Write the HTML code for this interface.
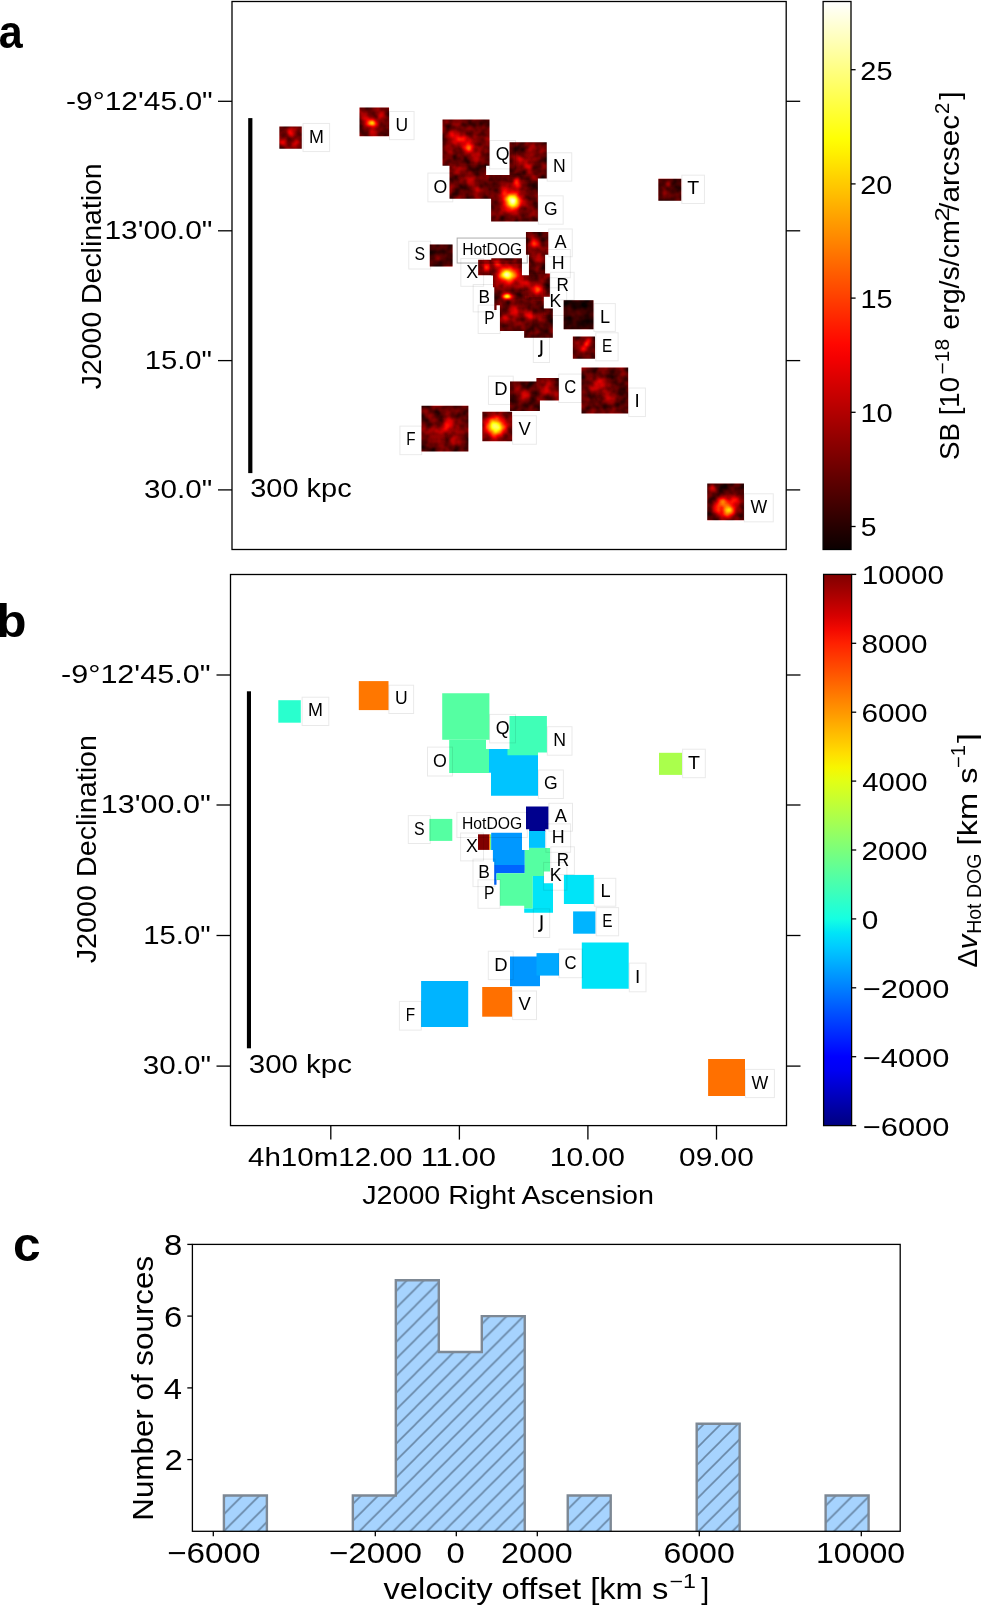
<!DOCTYPE html><html><head><meta charset="utf-8"><style>html,body{margin:0;padding:0;background:#fff;}svg{display:block;will-change:transform;}text{font-family:"Liberation Sans", sans-serif;}</style></head><body>
<svg width="981" height="1605" viewBox="0 0 981 1605">
<defs>
<linearGradient id="ghot" x1="0" y1="0" x2="0" y2="1"><stop offset="0.0000" stop-color="#ffffff"/><stop offset="0.0250" stop-color="#ffffe6"/><stop offset="0.0500" stop-color="#ffffcd"/><stop offset="0.0750" stop-color="#ffffb4"/><stop offset="0.1000" stop-color="#ffff9b"/><stop offset="0.1250" stop-color="#ffff81"/><stop offset="0.1500" stop-color="#ffff68"/><stop offset="0.1750" stop-color="#ffff4f"/><stop offset="0.2000" stop-color="#ffff36"/><stop offset="0.2250" stop-color="#ffff1d"/><stop offset="0.2500" stop-color="#ffff04"/><stop offset="0.2750" stop-color="#fff100"/><stop offset="0.3000" stop-color="#ffe000"/><stop offset="0.3250" stop-color="#ffcf00"/><stop offset="0.3500" stop-color="#ffbf00"/><stop offset="0.3750" stop-color="#ffae00"/><stop offset="0.4000" stop-color="#ff9d00"/><stop offset="0.4250" stop-color="#ff8d00"/><stop offset="0.4500" stop-color="#ff7c00"/><stop offset="0.4750" stop-color="#ff6b00"/><stop offset="0.5000" stop-color="#ff5a00"/><stop offset="0.5250" stop-color="#ff4a00"/><stop offset="0.5500" stop-color="#ff3900"/><stop offset="0.5750" stop-color="#ff2800"/><stop offset="0.6000" stop-color="#ff1700"/><stop offset="0.6250" stop-color="#ff0700"/><stop offset="0.6500" stop-color="#f50000"/><stop offset="0.6750" stop-color="#e40000"/><stop offset="0.7000" stop-color="#d30000"/><stop offset="0.7250" stop-color="#c30000"/><stop offset="0.7500" stop-color="#b20000"/><stop offset="0.7750" stop-color="#a10000"/><stop offset="0.8000" stop-color="#900000"/><stop offset="0.8250" stop-color="#800000"/><stop offset="0.8500" stop-color="#6f0000"/><stop offset="0.8750" stop-color="#5e0000"/><stop offset="0.9000" stop-color="#4e0000"/><stop offset="0.9250" stop-color="#3d0000"/><stop offset="0.9500" stop-color="#2c0000"/><stop offset="0.9750" stop-color="#1b0000"/><stop offset="1.0000" stop-color="#0b0000"/></linearGradient>
<linearGradient id="xstrip" x1="0" y1="0" x2="1" y2="0"><stop offset="0" stop-color="#ff3000"/><stop offset="0.35" stop-color="#ffd000"/><stop offset="0.65" stop-color="#60ff90"/><stop offset="1" stop-color="#00b0ff"/></linearGradient>
<linearGradient id="gjet" x1="0" y1="0" x2="0" y2="1"><stop offset="0.0000" stop-color="#800000"/><stop offset="0.0250" stop-color="#9c0000"/><stop offset="0.0500" stop-color="#b90000"/><stop offset="0.0750" stop-color="#d60000"/><stop offset="0.1000" stop-color="#f30900"/><stop offset="0.1250" stop-color="#ff2100"/><stop offset="0.1500" stop-color="#ff3900"/><stop offset="0.1750" stop-color="#ff5000"/><stop offset="0.2000" stop-color="#ff6800"/><stop offset="0.2250" stop-color="#ff8000"/><stop offset="0.2500" stop-color="#ff9700"/><stop offset="0.2750" stop-color="#ffaf00"/><stop offset="0.3000" stop-color="#ffc600"/><stop offset="0.3250" stop-color="#ffde00"/><stop offset="0.3500" stop-color="#f7f600"/><stop offset="0.3750" stop-color="#e2ff15"/><stop offset="0.4000" stop-color="#ceff29"/><stop offset="0.4250" stop-color="#b9ff3e"/><stop offset="0.4500" stop-color="#a5ff52"/><stop offset="0.4750" stop-color="#90ff67"/><stop offset="0.5000" stop-color="#7bff7b"/><stop offset="0.5250" stop-color="#67ff90"/><stop offset="0.5500" stop-color="#52ffa5"/><stop offset="0.5750" stop-color="#3effb9"/><stop offset="0.6000" stop-color="#29ffce"/><stop offset="0.6250" stop-color="#15ffe2"/><stop offset="0.6500" stop-color="#00e5f7"/><stop offset="0.6750" stop-color="#00ccff"/><stop offset="0.7000" stop-color="#00b3ff"/><stop offset="0.7250" stop-color="#0099ff"/><stop offset="0.7500" stop-color="#0080ff"/><stop offset="0.7750" stop-color="#0066ff"/><stop offset="0.8000" stop-color="#004cff"/><stop offset="0.8250" stop-color="#0033ff"/><stop offset="0.8500" stop-color="#001aff"/><stop offset="0.8750" stop-color="#0000ff"/><stop offset="0.9000" stop-color="#0000f3"/><stop offset="0.9250" stop-color="#0000d6"/><stop offset="0.9500" stop-color="#0000b9"/><stop offset="0.9750" stop-color="#00009c"/><stop offset="1.0000" stop-color="#000080"/></linearGradient>
<pattern id="hatch" patternUnits="userSpaceOnUse" width="16.953" height="16.953" patternTransform="translate(8.85,0)"><rect width="16.953" height="16.953" fill="#a6d3fe"/><path d="M-2,2 L2,-2 M0,16.953 L16.953,0 M14.953,18.953 L18.953,14.953" stroke="#6887a6" stroke-width="1.6"/></pattern>
<filter id="hotf" filterUnits="userSpaceOnUse" x="0" y="0" width="981" height="600" color-interpolation-filters="sRGB">
<feTurbulence type="fractalNoise" baseFrequency="0.11" numOctaves="2" seed="7" result="n"/>
<feColorMatrix in="n" type="matrix" values="1 0 0 0 0  1 0 0 0 0  1 0 0 0 0  0 0 0 0 1" result="ng"/>
<feComposite in="SourceGraphic" in2="ng" operator="arithmetic" k1="0" k2="1" k3="0.3" k4="-0.055" result="sum"/>
<feComponentTransfer in="sum" result="col"><feFuncR type="table" tableValues="0.043 0.173 0.306 0.435 0.565 0.698 0.827 0.961 1.000 1.000 1.000 1.000 1.000 1.000 1.000 1.000 1.000 1.000 1.000 1.000 1.000"/><feFuncG type="table" tableValues="0.000 0.000 0.000 0.000 0.000 0.000 0.000 0.000 0.090 0.224 0.353 0.486 0.616 0.749 0.878 1.000 1.000 1.000 1.000 1.000 1.000"/><feFuncB type="table" tableValues="0.000 0.000 0.000 0.000 0.000 0.000 0.000 0.000 0.000 0.000 0.000 0.000 0.000 0.000 0.000 0.016 0.212 0.408 0.608 0.804 1.000"/><feFuncA type="linear" slope="0" intercept="1"/></feComponentTransfer>
<feComposite in="col" in2="SourceAlpha" operator="in"/>
</filter>
<clipPath id="clipA"><rect x="279.35" y="126.41" width="22.40" height="22.39"/><rect x="359.49" y="107.40" width="29.57" height="28.86"/><rect x="658.35" y="178.75" width="22.90" height="21.99"/><rect x="707.23" y="483.54" width="36.74" height="36.62"/><rect x="489.11" y="174.96" width="48.78" height="23.68"/><rect x="491.10" y="198.65" width="46.79" height="22.79"/><rect x="449.49" y="165.71" width="36.64" height="33.14"/><rect x="486.12" y="174.96" width="2.99" height="23.88"/><rect x="442.52" y="119.44" width="46.99" height="46.27"/><rect x="509.52" y="142.23" width="37.23" height="36.32"/><rect x="507.53" y="174.96" width="30.36" height="6.17"/><rect x="429.78" y="244.52" width="22.80" height="21.89"/><rect x="525.95" y="232.08" width="22.30" height="22.69"/><rect x="529.13" y="254.57" width="15.93" height="2.69"/><rect x="528.93" y="256.56" width="16.13" height="16.82"/><rect x="478.16" y="259.85" width="11.35" height="15.52"/><rect x="489.31" y="259.85" width="2.19" height="15.52"/><rect x="491.30" y="258.35" width="30.66" height="17.12"/><rect x="492.99" y="275.37" width="31.76" height="11.84"/><rect x="494.29" y="287.21" width="30.46" height="3.08"/><rect x="494.29" y="290.29" width="30.46" height="8.36"/><rect x="494.29" y="298.65" width="2.29" height="11.44"/><rect x="524.75" y="275.37" width="4.38" height="23.28"/><rect x="528.93" y="273.38" width="20.91" height="23.38"/><rect x="499.96" y="298.65" width="32.75" height="32.34"/><rect x="496.58" y="298.65" width="3.38" height="6.67"/><rect x="524.15" y="330.99" width="8.56" height="2.69"/><rect x="524.75" y="295.97" width="19.01" height="5.37"/><rect x="532.72" y="301.34" width="11.05" height="36.52"/><rect x="543.77" y="308.60" width="9.06" height="29.26"/><rect x="524.15" y="333.68" width="8.56" height="4.18"/><rect x="563.68" y="300.25" width="29.77" height="28.96"/><rect x="572.84" y="336.57" width="22.20" height="22.19"/><rect x="581.50" y="367.51" width="46.69" height="46.07"/><rect x="510.02" y="381.44" width="29.87" height="29.55"/><rect x="536.40" y="378.06" width="22.40" height="22.39"/><rect x="482.34" y="411.79" width="29.77" height="29.55"/><rect x="421.51" y="405.82" width="46.89" height="45.67"/></clipPath>
<radialGradient id="blob"><stop offset="0.0" stop-color="#fff" stop-opacity="1.000"/><stop offset="0.1" stop-color="#fff" stop-opacity="0.956"/><stop offset="0.2" stop-color="#fff" stop-opacity="0.835"/><stop offset="0.3" stop-color="#fff" stop-opacity="0.667"/><stop offset="0.4" stop-color="#fff" stop-opacity="0.487"/><stop offset="0.5" stop-color="#fff" stop-opacity="0.325"/><stop offset="0.6" stop-color="#fff" stop-opacity="0.198"/><stop offset="0.7" stop-color="#fff" stop-opacity="0.110"/><stop offset="0.8" stop-color="#fff" stop-opacity="0.056"/><stop offset="0.9" stop-color="#fff" stop-opacity="0.026"/><stop offset="1.0" stop-color="#fff" stop-opacity="0.011"/></radialGradient>
</defs>
<rect width="981" height="1605" fill="#fff"/>
<g filter="url(#hotf)">
<path d="M279.35,126.41H301.75V148.79H279.35ZM359.49,107.40H389.06V136.26H359.49ZM658.35,178.75H681.25V200.74H658.35ZM707.23,483.54H743.97V520.16H707.23ZM489.11,174.96H537.89V198.65H489.11ZM491.10,198.65H537.89V221.44H491.10ZM449.49,165.71H486.12V198.85H449.49ZM486.12,174.96H489.11V198.85H486.12ZM442.52,119.44H489.51V165.71H442.52ZM509.52,142.23H546.75V178.55H509.52ZM507.53,174.96H537.89V181.13H507.53ZM429.78,244.52H452.57V266.41H429.78ZM525.95,232.08H548.25V254.77H525.95ZM529.13,254.57H545.06V257.26H529.13ZM528.93,256.56H545.06V273.38H528.93ZM478.16,259.85H489.51V275.37H478.16ZM489.31,259.85H491.50V275.37H489.31ZM491.30,258.35H521.96V275.47H491.30ZM492.99,275.37H524.75V287.21H492.99ZM494.29,287.21H524.75V290.29H494.29ZM494.29,290.29H524.75V298.65H494.29ZM494.29,298.65H496.58V310.10H494.29ZM524.75,275.37H529.13V298.65H524.75ZM528.93,273.38H549.84V296.76H528.93ZM499.96,298.65H532.72V330.99H499.96ZM496.58,298.65H499.96V305.32H496.58ZM524.15,330.99H532.72V333.68H524.15ZM524.75,295.97H543.77V301.34H524.75ZM532.72,301.34H543.77V337.86H532.72ZM543.77,308.60H552.83V337.86H543.77ZM524.15,333.68H532.72V337.86H524.15ZM563.68,300.25H593.44V329.20H563.68ZM572.84,336.57H595.04V358.76H572.84ZM581.50,367.51H628.19V413.59H581.50ZM510.02,381.44H539.88V411.00H510.02ZM536.40,378.06H558.80V400.45H536.40ZM482.34,411.79H512.11V441.35H482.34ZM421.51,405.82H468.40V451.50H421.51Z" fill="#000"/>
<path d="M279.35,126.41H301.75V148.79H279.35Z" fill="#fff" opacity="0.03"/>
<path d="M359.49,107.40H389.06V136.26H359.49Z" fill="#fff" opacity="0.04"/>
<path d="M489.11,174.96H537.89V198.65H489.11ZM491.10,198.65H537.89V221.44H491.10Z" fill="#fff" opacity="0.02"/>
<path d="M449.49,165.71H486.12V198.85H449.49ZM486.12,174.96H489.11V198.85H486.12Z" fill="#fff" opacity="0.025"/>
<path d="M442.52,119.44H489.51V165.71H442.52Z" fill="#fff" opacity="0.035"/>
<path d="M509.52,142.23H546.75V178.55H509.52ZM507.53,174.96H537.89V181.13H507.53Z" fill="#fff" opacity="0.025"/>
<path d="M429.78,244.52H452.57V266.41H429.78Z" fill="#fff" opacity="0.01"/>
<path d="M525.95,232.08H548.25V254.77H525.95ZM529.13,254.57H545.06V257.26H529.13Z" fill="#fff" opacity="0.03"/>
<path d="M528.93,256.56H545.06V273.38H528.93Z" fill="#fff" opacity="0.02"/>
<path d="M478.16,259.85H489.51V275.37H478.16Z" fill="#fff" opacity="0.05"/>
<path d="M491.30,258.35H521.96V275.47H491.30ZM492.99,275.37H524.75V287.21H492.99ZM494.29,287.21H524.75V290.29H494.29Z" fill="#fff" opacity="0.04"/>
<path d="M494.29,290.29H524.75V298.65H494.29ZM494.29,298.65H496.58V310.10H494.29Z" fill="#fff" opacity="0.03"/>
<path d="M524.75,275.37H529.13V298.65H524.75ZM528.93,273.38H549.84V296.76H528.93Z" fill="#fff" opacity="0.04"/>
<path d="M499.96,298.65H532.72V330.99H499.96ZM496.58,298.65H499.96V305.32H496.58ZM524.15,330.99H532.72V333.68H524.15ZM524.75,295.97H543.77V301.34H524.75Z" fill="#fff" opacity="0.03"/>
<path d="M532.72,301.34H543.77V337.86H532.72ZM543.77,308.60H552.83V337.86H543.77ZM524.15,333.68H532.72V337.86H524.15Z" fill="#fff" opacity="0.02"/>
<path d="M572.84,336.57H595.04V358.76H572.84Z" fill="#fff" opacity="0.02"/>
<path d="M581.50,367.51H628.19V413.59H581.50Z" fill="#fff" opacity="0.015"/>
<path d="M510.02,381.44H539.88V411.00H510.02Z" fill="#fff" opacity="0.03"/>
<path d="M536.40,378.06H558.80V400.45H536.40Z" fill="#fff" opacity="0.04"/>
<path d="M482.34,411.79H512.11V441.35H482.34Z" fill="#fff" opacity="0.02"/>
<path d="M421.51,405.82H468.40V451.50H421.51Z" fill="#fff" opacity="0.03"/>
<g clip-path="url(#clipA)">
<ellipse cx="290" cy="133" rx="10.0" ry="10.0" fill="url(#blob)" opacity="0.2"/>
<ellipse cx="284" cy="142" rx="10.0" ry="8.0" fill="url(#blob)" opacity="0.2"/>
<ellipse cx="296" cy="143" rx="8.0" ry="8.0" fill="url(#blob)" opacity="0.15"/>
<ellipse cx="371.7" cy="122.9" rx="10.0" ry="8.0" fill="url(#blob)" opacity="0.6"/>
<ellipse cx="381" cy="115" rx="8.0" ry="8.0" fill="url(#blob)" opacity="0.2"/>
<ellipse cx="372" cy="133" rx="8.0" ry="8.0" fill="url(#blob)" opacity="0.2"/>
<ellipse cx="364" cy="118" rx="8.0" ry="8.0" fill="url(#blob)" opacity="0.15"/>
<ellipse cx="469" cy="148" rx="10.0" ry="10.0" fill="url(#blob)" opacity="0.45"/>
<ellipse cx="460" cy="140" rx="16.0" ry="12.0" fill="url(#blob)" opacity="0.3"/>
<ellipse cx="452" cy="134" rx="8.0" ry="8.0" fill="url(#blob)" opacity="0.2"/>
<ellipse cx="476" cy="156" rx="10.0" ry="10.0" fill="url(#blob)" opacity="0.15"/>
<ellipse cx="530" cy="150" rx="12.0" ry="12.0" fill="url(#blob)" opacity="0.15"/>
<ellipse cx="528" cy="166" rx="10.0" ry="10.0" fill="url(#blob)" opacity="0.2"/>
<ellipse cx="520" cy="160" rx="10.0" ry="10.0" fill="url(#blob)" opacity="0.15"/>
<ellipse cx="470" cy="180" rx="12.0" ry="10.0" fill="url(#blob)" opacity="0.18"/>
<ellipse cx="458" cy="172" rx="10.0" ry="10.0" fill="url(#blob)" opacity="0.15"/>
<ellipse cx="478" cy="190" rx="10.0" ry="10.0" fill="url(#blob)" opacity="0.15"/>
<ellipse cx="512.2" cy="201.1" rx="24.0" ry="24.0" fill="url(#blob)" opacity="0.28"/>
<ellipse cx="512.2" cy="201.1" rx="14.0" ry="14.0" fill="url(#blob)" opacity="0.8"/>
<ellipse cx="517" cy="183" rx="8.0" ry="12.0" fill="url(#blob)" opacity="0.3"/>
<ellipse cx="505" cy="192" rx="8.0" ry="8.0" fill="url(#blob)" opacity="0.15"/>
<ellipse cx="665" cy="193" rx="8.0" ry="8.0" fill="url(#blob)" opacity="0.15"/>
<ellipse cx="668" cy="185" rx="8.0" ry="8.0" fill="url(#blob)" opacity="0.15"/>
<ellipse cx="440" cy="258" rx="8.0" ry="8.0" fill="url(#blob)" opacity="0.08"/>
<ellipse cx="534.2" cy="243.9" rx="10.0" ry="10.0" fill="url(#blob)" opacity="0.33"/>
<ellipse cx="538" cy="258" rx="8.0" ry="10.0" fill="url(#blob)" opacity="0.15"/>
<ellipse cx="486.3" cy="266.8" rx="8.0" ry="8.0" fill="url(#blob)" opacity="0.35"/>
<ellipse cx="497" cy="264" rx="10.0" ry="8.0" fill="url(#blob)" opacity="0.25"/>
<ellipse cx="508.2" cy="275.0" rx="24.0" ry="20.0" fill="url(#blob)" opacity="0.25"/>
<ellipse cx="508.2" cy="275.0" rx="16.0" ry="12.0" fill="url(#blob)" opacity="0.72"/>
<ellipse cx="507.2" cy="296.4" rx="10.0" ry="6.0" fill="url(#blob)" opacity="0.6"/>
<ellipse cx="537.8" cy="289.7" rx="10.0" ry="10.0" fill="url(#blob)" opacity="0.38"/>
<ellipse cx="525" cy="283" rx="10.0" ry="10.0" fill="url(#blob)" opacity="0.18"/>
<ellipse cx="548" cy="300" rx="10.0" ry="10.0" fill="url(#blob)" opacity="0.18"/>
<ellipse cx="515" cy="312" rx="12.0" ry="12.0" fill="url(#blob)" opacity="0.18"/>
<ellipse cx="530" cy="316" rx="12.0" ry="12.0" fill="url(#blob)" opacity="0.18"/>
<ellipse cx="540" cy="318" rx="10.0" ry="10.0" fill="url(#blob)" opacity="0.15"/>
<ellipse cx="505" cy="318" rx="10.0" ry="10.0" fill="url(#blob)" opacity="0.15"/>
<ellipse cx="586.5" cy="344.5" rx="7.0" ry="7.0" fill="url(#blob)" opacity="0.3"/>
<ellipse cx="583.5" cy="348.5" rx="7.0" ry="7.0" fill="url(#blob)" opacity="0.28"/>
<ellipse cx="589" cy="341" rx="6.0" ry="6.0" fill="url(#blob)" opacity="0.2"/>
<ellipse cx="524.9" cy="395" rx="12.0" ry="12.0" fill="url(#blob)" opacity="0.2"/>
<ellipse cx="518" cy="388" rx="10.0" ry="10.0" fill="url(#blob)" opacity="0.15"/>
<ellipse cx="547.3" cy="388.3" rx="12.0" ry="12.0" fill="url(#blob)" opacity="0.22"/>
<ellipse cx="601" cy="381.6" rx="12.0" ry="12.0" fill="url(#blob)" opacity="0.22"/>
<ellipse cx="608" cy="397" rx="12.0" ry="12.0" fill="url(#blob)" opacity="0.2"/>
<ellipse cx="594" cy="388" rx="12.0" ry="12.0" fill="url(#blob)" opacity="0.15"/>
<ellipse cx="447.5" cy="425.3" rx="12.0" ry="12.0" fill="url(#blob)" opacity="0.28"/>
<ellipse cx="438" cy="432" rx="12.0" ry="12.0" fill="url(#blob)" opacity="0.15"/>
<ellipse cx="455" cy="440" rx="12.0" ry="12.0" fill="url(#blob)" opacity="0.15"/>
<ellipse cx="495.7" cy="426.4" rx="24.0" ry="24.0" fill="url(#blob)" opacity="0.28"/>
<ellipse cx="495.7" cy="426.4" rx="15.0" ry="15.0" fill="url(#blob)" opacity="0.75"/>
<ellipse cx="728.7" cy="510.9" rx="14.0" ry="14.0" fill="url(#blob)" opacity="0.6"/>
<ellipse cx="722.6" cy="502.7" rx="14.0" ry="12.0" fill="url(#blob)" opacity="0.4"/>
<ellipse cx="735" cy="500" rx="12.0" ry="10.0" fill="url(#blob)" opacity="0.28"/>
<ellipse cx="718" cy="510" rx="10.0" ry="10.0" fill="url(#blob)" opacity="0.28"/>
<ellipse cx="712" cy="488" rx="8.0" ry="8.0" fill="url(#blob)" opacity="0.18"/>
</g></g>
<path d="M658.35,178.75H681.25V200.74H658.35Z" fill="#000" opacity="0.15"/>
<path d="M429.78,244.52H452.57V266.41H429.78Z" fill="#000" opacity="0.2"/>
<path d="M532.72,301.34H543.77V337.86H532.72ZM543.77,308.60H552.83V337.86H543.77ZM524.15,333.68H532.72V337.86H524.15Z" fill="#000" opacity="0.12"/>
<path d="M563.68,300.25H593.44V329.20H563.68Z" fill="#000" opacity="0.35"/>
<path d="M510.02,381.44H539.88V411.00H510.02Z" fill="#000" opacity="0.15"/>
<g transform="matrix(0.99554,0,0,0.99508,2.2914,-570.35)">
<rect x="302.10" y="697.20" width="26.70" height="28.30" fill="none" stroke="#000" stroke-opacity="0.085" stroke-width="1"/>
<text x="308.05" y="716.45" style="font-size:19.0px;" textLength="14.92" lengthAdjust="spacingAndGlyphs" fill="#000" >M</text>
<rect x="388.90" y="685.20" width="24.70" height="28.30" fill="none" stroke="#000" stroke-opacity="0.085" stroke-width="1"/>
<text x="394.95" y="704.45" style="font-size:19.0px;" textLength="12.67" lengthAdjust="spacingAndGlyphs" fill="#000" >U</text>
<rect x="489.60" y="714.40" width="25.90" height="28.50" fill="none" stroke="#000" stroke-opacity="0.085" stroke-width="1"/>
<text x="495.66" y="733.75" style="font-size:19.0px;" textLength="13.85" lengthAdjust="spacingAndGlyphs" fill="#000" >Q</text>
<rect x="547.30" y="726.70" width="24.70" height="28.50" fill="none" stroke="#000" stroke-opacity="0.085" stroke-width="1"/>
<text x="553.30" y="746.05" style="font-size:19.0px;" textLength="12.77" lengthAdjust="spacingAndGlyphs" fill="#000" >N</text>
<rect x="427.50" y="747.10" width="25.00" height="28.90" fill="none" stroke="#000" stroke-opacity="0.085" stroke-width="1"/>
<text x="433.11" y="766.65" style="font-size:19.0px;" textLength="13.85" lengthAdjust="spacingAndGlyphs" fill="#000" >O</text>
<rect x="538.40" y="770.00" width="25.00" height="28.50" fill="none" stroke="#000" stroke-opacity="0.085" stroke-width="1"/>
<text x="544.05" y="789.35" style="font-size:19.0px;" textLength="13.66" lengthAdjust="spacingAndGlyphs" fill="#000" >G</text>
<rect x="682.60" y="749.20" width="22.70" height="28.50" fill="none" stroke="#000" stroke-opacity="0.085" stroke-width="1"/>
<text x="687.96" y="768.55" style="font-size:19.0px;" textLength="12.00" lengthAdjust="spacingAndGlyphs" fill="#000" >T</text>
<rect x="408.30" y="815.60" width="22.00" height="27.90" fill="none" stroke="#000" stroke-opacity="0.085" stroke-width="1"/>
<text x="414.07" y="834.65" style="font-size:19.0px;" textLength="10.67" lengthAdjust="spacingAndGlyphs" fill="#000" >S</text>
<rect x="456.90" y="812.40" width="70.40" height="25.10" fill="none" stroke="#000" stroke-opacity="0.33" stroke-width="1"/>
<text x="462.04" y="829.40" style="font-size:16.1px;" textLength="60.22" lengthAdjust="spacingAndGlyphs" fill="#000" >HotDOG</text>
<rect x="548.90" y="803.30" width="23.60" height="27.90" fill="none" stroke="#000" stroke-opacity="0.085" stroke-width="1"/>
<text x="554.64" y="822.35" style="font-size:19.0px;" textLength="12.14" lengthAdjust="spacingAndGlyphs" fill="#000" >A</text>
<rect x="460.60" y="833.00" width="22.90" height="27.90" fill="none" stroke="#000" stroke-opacity="0.085" stroke-width="1"/>
<text x="466.04" y="852.05" style="font-size:19.0px;" textLength="11.94" lengthAdjust="spacingAndGlyphs" fill="#000" >X</text>
<rect x="545.90" y="823.90" width="24.70" height="28.40" fill="none" stroke="#000" stroke-opacity="0.085" stroke-width="1"/>
<text x="551.85" y="843.20" style="font-size:19.0px;" textLength="12.90" lengthAdjust="spacingAndGlyphs" fill="#000" >H</text>
<rect x="550.80" y="846.80" width="23.60" height="27.80" fill="none" stroke="#000" stroke-opacity="0.085" stroke-width="1"/>
<text x="556.78" y="865.80" style="font-size:19.0px;" textLength="12.38" lengthAdjust="spacingAndGlyphs" fill="#000" >R</text>
<rect x="473.00" y="859.10" width="22.00" height="27.50" fill="none" stroke="#000" stroke-opacity="0.085" stroke-width="1"/>
<text x="478.24" y="877.95" style="font-size:19.0px;" textLength="11.60" lengthAdjust="spacingAndGlyphs" fill="#000" >B</text>
<rect x="543.60" y="862.40" width="23.30" height="27.80" fill="none" stroke="#000" stroke-opacity="0.085" stroke-width="1"/>
<text x="549.72" y="881.40" style="font-size:19.0px;" textLength="11.95" lengthAdjust="spacingAndGlyphs" fill="#000" >K</text>
<rect x="478.00" y="879.80" width="22.00" height="28.50" fill="none" stroke="#000" stroke-opacity="0.085" stroke-width="1"/>
<text x="484.12" y="899.15" style="font-size:19.0px;" textLength="10.47" lengthAdjust="spacingAndGlyphs" fill="#000" >P</text>
<rect x="594.30" y="878.30" width="21.50" height="27.90" fill="none" stroke="#000" stroke-opacity="0.085" stroke-width="1"/>
<text x="600.38" y="897.35" style="font-size:19.0px;" textLength="10.12" lengthAdjust="spacingAndGlyphs" fill="#000" >L</text>
<rect x="533.40" y="908.90" width="16.30" height="28.60" fill="none" stroke="#000" stroke-opacity="0.085" stroke-width="1"/>
<path d="M541.55,915.20 V928.30 Q541.55,930.95 538.55,930.95 H538.20" fill="none" stroke="#000" stroke-width="1.9"/>
<rect x="596.20" y="907.60" width="22.40" height="28.20" fill="none" stroke="#000" stroke-opacity="0.085" stroke-width="1"/>
<text x="602.28" y="926.80" style="font-size:19.0px;" textLength="10.28" lengthAdjust="spacingAndGlyphs" fill="#000" >E</text>
<rect x="488.30" y="951.20" width="24.90" height="28.40" fill="none" stroke="#000" stroke-opacity="0.085" stroke-width="1"/>
<text x="494.14" y="970.50" style="font-size:19.0px;" textLength="13.35" lengthAdjust="spacingAndGlyphs" fill="#000" >D</text>
<rect x="559.00" y="949.10" width="23.30" height="28.60" fill="none" stroke="#000" stroke-opacity="0.085" stroke-width="1"/>
<text x="564.53" y="968.50" style="font-size:19.0px;" textLength="12.06" lengthAdjust="spacingAndGlyphs" fill="#000" >C</text>
<rect x="629.30" y="963.10" width="16.70" height="28.70" fill="none" stroke="#000" stroke-opacity="0.085" stroke-width="1"/>
<text x="635.09" y="982.55" style="font-size:19.0px;" textLength="5.26" lengthAdjust="spacingAndGlyphs" fill="#000" >I</text>
<rect x="512.60" y="991.00" width="23.90" height="28.60" fill="none" stroke="#000" stroke-opacity="0.085" stroke-width="1"/>
<text x="518.40" y="1010.40" style="font-size:19.0px;" textLength="12.32" lengthAdjust="spacingAndGlyphs" fill="#000" >V</text>
<rect x="399.40" y="1001.40" width="21.90" height="28.70" fill="none" stroke="#000" stroke-opacity="0.085" stroke-width="1"/>
<text x="405.75" y="1020.85" style="font-size:19.0px;" textLength="9.35" lengthAdjust="spacingAndGlyphs" fill="#000" >F</text>
<rect x="745.40" y="1069.40" width="29.00" height="28.20" fill="none" stroke="#000" stroke-opacity="0.085" stroke-width="1"/>
<text x="751.51" y="1088.60" style="font-size:19.0px;" textLength="16.76" lengthAdjust="spacingAndGlyphs" fill="#000" >W</text>
</g>
<rect x="248.20" y="118.10" width="4.20" height="355.00" fill="#000" />
<text x="250.24" y="497.40" style="font-size:26.3px;" textLength="101.41" lengthAdjust="spacingAndGlyphs" fill="#000" >300 kpc</text>
<rect x="232.00" y="1.50" width="554.20" height="548.00" fill="none" stroke="#000" stroke-width="1.3" />
<line x1="218.00" y1="101.30" x2="232.00" y2="101.30" stroke="#000" stroke-width="1.3"/>
<line x1="786.20" y1="101.30" x2="800.20" y2="101.30" stroke="#000" stroke-width="1.3"/>
<line x1="218.00" y1="230.80" x2="232.00" y2="230.80" stroke="#000" stroke-width="1.3"/>
<line x1="786.20" y1="230.80" x2="800.20" y2="230.80" stroke="#000" stroke-width="1.3"/>
<line x1="218.00" y1="360.60" x2="232.00" y2="360.60" stroke="#000" stroke-width="1.3"/>
<line x1="786.20" y1="360.60" x2="800.20" y2="360.60" stroke="#000" stroke-width="1.3"/>
<line x1="218.00" y1="489.90" x2="232.00" y2="489.90" stroke="#000" stroke-width="1.3"/>
<line x1="786.20" y1="489.90" x2="800.20" y2="489.90" stroke="#000" stroke-width="1.3"/>
<text x="66.05" y="109.50" style="font-size:26.3px;" textLength="146.71" lengthAdjust="spacingAndGlyphs" fill="#000" >-9°12'45.0"</text>
<text x="104.45" y="239.00" style="font-size:26.3px;" textLength="108.03" lengthAdjust="spacingAndGlyphs" fill="#000" >13'00.0"</text>
<text x="144.71" y="368.80" style="font-size:26.3px;" textLength="67.30" lengthAdjust="spacingAndGlyphs" fill="#000" >15.0"</text>
<text x="144.12" y="498.20" style="font-size:26.3px;" textLength="68.11" lengthAdjust="spacingAndGlyphs" fill="#000" >30.0"</text>
<text transform="translate(100.70,389.23) rotate(-90)" x="0" y="0" style="font-size:28.0px;" textLength="225.87" lengthAdjust="spacingAndGlyphs">J2000 Declination</text>
<rect x="823.10" y="1.50" width="27.90" height="548.00" fill="url(#ghot)" stroke="#000" stroke-width="1.3" />
<line x1="851.00" y1="526.50" x2="855.60" y2="526.50" stroke="#000" stroke-width="1.3"/>
<text x="860.66" y="536.30" style="font-size:26.3px;" textLength="15.81" lengthAdjust="spacingAndGlyphs" fill="#000" >5</text>
<line x1="851.00" y1="412.30" x2="855.60" y2="412.30" stroke="#000" stroke-width="1.3"/>
<text x="860.42" y="422.10" style="font-size:26.3px;" textLength="32.37" lengthAdjust="spacingAndGlyphs" fill="#000" >10</text>
<line x1="851.00" y1="298.10" x2="855.60" y2="298.10" stroke="#000" stroke-width="1.3"/>
<text x="860.44" y="307.90" style="font-size:26.3px;" textLength="32.08" lengthAdjust="spacingAndGlyphs" fill="#000" >15</text>
<line x1="851.00" y1="183.90" x2="855.60" y2="183.90" stroke="#000" stroke-width="1.3"/>
<text x="860.36" y="193.70" style="font-size:26.3px;" textLength="32.01" lengthAdjust="spacingAndGlyphs" fill="#000" >20</text>
<line x1="851.00" y1="69.70" x2="855.60" y2="69.70" stroke="#000" stroke-width="1.3"/>
<text x="860.35" y="79.50" style="font-size:26.3px;" textLength="32.17" lengthAdjust="spacingAndGlyphs" fill="#000" >25</text>
<text transform="translate(958.60,460.05) rotate(-90)" x="0" y="0" style="font-size:28.0px;" textLength="83.28" lengthAdjust="spacingAndGlyphs">SB [10</text>
<text transform="translate(948.70,374.45) rotate(-90)" x="0" y="0" style="font-size:19.5px;" textLength="35.51" lengthAdjust="spacingAndGlyphs">−18</text>
<text transform="translate(958.60,329.74) rotate(-90)" x="0" y="0" style="font-size:28.0px;" textLength="109.57" lengthAdjust="spacingAndGlyphs">erg/s/cm</text>
<text transform="translate(948.70,221.50) rotate(-90)" x="0" y="0" style="font-size:19.5px;" textLength="14.42" lengthAdjust="spacingAndGlyphs">2</text>
<text transform="translate(958.60,210.90) rotate(-90)" x="0" y="0" style="font-size:28.0px;" textLength="96.09" lengthAdjust="spacingAndGlyphs">/arcsec</text>
<text transform="translate(948.70,114.02) rotate(-90)" x="0" y="0" style="font-size:19.5px;" textLength="11.37" lengthAdjust="spacingAndGlyphs">2</text>
<text transform="translate(958.60,99.85) rotate(-90)" x="0" y="0" style="font-size:28.0px;" textLength="8.33" lengthAdjust="spacingAndGlyphs">]</text>
<path d="M278.30,700.20H300.80V722.70H278.30Z" fill="#29ffce"/>
<path d="M358.80,681.10H388.50V710.10H358.80Z" fill="#ff7700"/>
<path d="M659.00,752.80H682.00V774.90H659.00Z" fill="#aaff4c"/>
<path d="M708.10,1059.10H745.00V1095.90H708.10Z" fill="#ff7000"/>
<path d="M489.00,749.00H538.00V772.80H489.00ZM491.00,772.80H538.00V795.70H491.00Z" fill="#00c4ff"/>
<path d="M449.20,739.70H486.00V773.00H449.20ZM486.00,749.00H489.00V773.00H486.00Z" fill="#4fffa8"/>
<path d="M442.20,693.20H489.40V739.70H442.20Z" fill="#55ffa2"/>
<path d="M509.50,716.10H546.90V752.60H509.50ZM507.50,749.00H538.00V755.20H507.50Z" fill="#40ffb7"/>
<path d="M429.40,818.90H452.30V840.90H429.40Z" fill="#55ffa2"/>
<path d="M526.00,806.40H548.40V829.20H526.00ZM529.20,829.00H545.20V831.70H529.20Z" fill="#00008e"/>
<path d="M529.00,831.00H545.20V847.90H529.00Z" fill="#00c4ff"/>
<path d="M478.00,834.30H489.40V849.90H478.00Z" fill="#800000"/>
<path d="M489.20,834.30H491.40V849.90H489.20Z" fill="url(#xstrip)"/>
<path d="M491.20,832.80H522.00V850.00H491.20ZM492.90,849.90H524.80V861.80H492.90ZM494.20,861.80H524.80V864.90H494.20Z" fill="#0098ff"/>
<path d="M494.20,864.90H524.80V873.30H494.20ZM494.20,873.30H496.50V884.80H494.20Z" fill="#0064ff"/>
<path d="M524.80,849.90H529.20V873.30H524.80ZM529.00,847.90H550.00V871.40H529.00Z" fill="#55ffa2"/>
<path d="M499.90,873.30H532.80V905.80H499.90ZM496.50,873.30H499.90V880.00H496.50ZM524.20,905.80H532.80V908.50H524.20ZM524.80,870.60H543.90V876.00H524.80Z" fill="#55ffa2"/>
<path d="M532.80,876.00H543.90V912.70H532.80ZM543.90,883.30H553.00V912.70H543.90ZM524.20,908.50H532.80V912.70H524.20Z" fill="#00e4f8"/>
<path d="M563.90,874.90H593.80V904.00H563.90Z" fill="#00e4f8"/>
<path d="M573.10,911.40H595.40V933.70H573.10Z" fill="#00b4ff"/>
<path d="M581.80,942.50H628.70V988.80H581.80Z" fill="#00e4f8"/>
<path d="M510.00,956.50H540.00V986.20H510.00Z" fill="#0096ff"/>
<path d="M536.50,953.10H559.00V975.60H536.50Z" fill="#00a8ff"/>
<path d="M482.20,987.00H512.10V1016.70H482.20Z" fill="#ff7000"/>
<path d="M421.10,981.00H468.20V1026.90H421.10Z" fill="#00b4ff"/>
<rect x="302.10" y="697.20" width="26.70" height="28.30" fill="none" stroke="#000" stroke-opacity="0.085" stroke-width="1"/>
<text x="308.05" y="716.45" style="font-size:19.0px;" textLength="14.92" lengthAdjust="spacingAndGlyphs" fill="#000" >M</text>
<rect x="388.90" y="685.20" width="24.70" height="28.30" fill="none" stroke="#000" stroke-opacity="0.085" stroke-width="1"/>
<text x="394.95" y="704.45" style="font-size:19.0px;" textLength="12.67" lengthAdjust="spacingAndGlyphs" fill="#000" >U</text>
<rect x="489.60" y="714.40" width="25.90" height="28.50" fill="none" stroke="#000" stroke-opacity="0.085" stroke-width="1"/>
<text x="495.66" y="733.75" style="font-size:19.0px;" textLength="13.85" lengthAdjust="spacingAndGlyphs" fill="#000" >Q</text>
<rect x="547.30" y="726.70" width="24.70" height="28.50" fill="none" stroke="#000" stroke-opacity="0.085" stroke-width="1"/>
<text x="553.30" y="746.05" style="font-size:19.0px;" textLength="12.77" lengthAdjust="spacingAndGlyphs" fill="#000" >N</text>
<rect x="427.50" y="747.10" width="25.00" height="28.90" fill="none" stroke="#000" stroke-opacity="0.085" stroke-width="1"/>
<text x="433.11" y="766.65" style="font-size:19.0px;" textLength="13.85" lengthAdjust="spacingAndGlyphs" fill="#000" >O</text>
<rect x="538.40" y="770.00" width="25.00" height="28.50" fill="none" stroke="#000" stroke-opacity="0.085" stroke-width="1"/>
<text x="544.05" y="789.35" style="font-size:19.0px;" textLength="13.66" lengthAdjust="spacingAndGlyphs" fill="#000" >G</text>
<rect x="682.60" y="749.20" width="22.70" height="28.50" fill="none" stroke="#000" stroke-opacity="0.085" stroke-width="1"/>
<text x="687.96" y="768.55" style="font-size:19.0px;" textLength="12.00" lengthAdjust="spacingAndGlyphs" fill="#000" >T</text>
<rect x="408.30" y="815.60" width="22.00" height="27.90" fill="none" stroke="#000" stroke-opacity="0.085" stroke-width="1"/>
<text x="414.07" y="834.65" style="font-size:19.0px;" textLength="10.67" lengthAdjust="spacingAndGlyphs" fill="#000" >S</text>
<rect x="456.90" y="812.40" width="70.40" height="25.10" fill="none" stroke="#000" stroke-opacity="0.085" stroke-width="1"/>
<text x="462.04" y="829.40" style="font-size:16.1px;" textLength="60.22" lengthAdjust="spacingAndGlyphs" fill="#000" >HotDOG</text>
<rect x="548.90" y="803.30" width="23.60" height="27.90" fill="none" stroke="#000" stroke-opacity="0.085" stroke-width="1"/>
<text x="554.64" y="822.35" style="font-size:19.0px;" textLength="12.14" lengthAdjust="spacingAndGlyphs" fill="#000" >A</text>
<rect x="460.60" y="833.00" width="22.90" height="27.90" fill="none" stroke="#000" stroke-opacity="0.085" stroke-width="1"/>
<text x="466.04" y="852.05" style="font-size:19.0px;" textLength="11.94" lengthAdjust="spacingAndGlyphs" fill="#000" >X</text>
<rect x="545.90" y="823.90" width="24.70" height="28.40" fill="none" stroke="#000" stroke-opacity="0.085" stroke-width="1"/>
<text x="551.85" y="843.20" style="font-size:19.0px;" textLength="12.90" lengthAdjust="spacingAndGlyphs" fill="#000" >H</text>
<rect x="550.80" y="846.80" width="23.60" height="27.80" fill="none" stroke="#000" stroke-opacity="0.085" stroke-width="1"/>
<text x="556.78" y="865.80" style="font-size:19.0px;" textLength="12.38" lengthAdjust="spacingAndGlyphs" fill="#000" >R</text>
<rect x="473.00" y="859.10" width="22.00" height="27.50" fill="none" stroke="#000" stroke-opacity="0.085" stroke-width="1"/>
<text x="478.24" y="877.95" style="font-size:19.0px;" textLength="11.60" lengthAdjust="spacingAndGlyphs" fill="#000" >B</text>
<rect x="543.60" y="862.40" width="23.30" height="27.80" fill="none" stroke="#000" stroke-opacity="0.085" stroke-width="1"/>
<text x="549.72" y="881.40" style="font-size:19.0px;" textLength="11.95" lengthAdjust="spacingAndGlyphs" fill="#000" >K</text>
<rect x="478.00" y="879.80" width="22.00" height="28.50" fill="none" stroke="#000" stroke-opacity="0.085" stroke-width="1"/>
<text x="484.12" y="899.15" style="font-size:19.0px;" textLength="10.47" lengthAdjust="spacingAndGlyphs" fill="#000" >P</text>
<rect x="594.30" y="878.30" width="21.50" height="27.90" fill="none" stroke="#000" stroke-opacity="0.085" stroke-width="1"/>
<text x="600.38" y="897.35" style="font-size:19.0px;" textLength="10.12" lengthAdjust="spacingAndGlyphs" fill="#000" >L</text>
<rect x="533.40" y="908.90" width="16.30" height="28.60" fill="none" stroke="#000" stroke-opacity="0.085" stroke-width="1"/>
<path d="M541.55,915.20 V928.30 Q541.55,930.95 538.55,930.95 H538.20" fill="none" stroke="#000" stroke-width="1.9"/>
<rect x="596.20" y="907.60" width="22.40" height="28.20" fill="none" stroke="#000" stroke-opacity="0.085" stroke-width="1"/>
<text x="602.28" y="926.80" style="font-size:19.0px;" textLength="10.28" lengthAdjust="spacingAndGlyphs" fill="#000" >E</text>
<rect x="488.30" y="951.20" width="24.90" height="28.40" fill="none" stroke="#000" stroke-opacity="0.085" stroke-width="1"/>
<text x="494.14" y="970.50" style="font-size:19.0px;" textLength="13.35" lengthAdjust="spacingAndGlyphs" fill="#000" >D</text>
<rect x="559.00" y="949.10" width="23.30" height="28.60" fill="none" stroke="#000" stroke-opacity="0.085" stroke-width="1"/>
<text x="564.53" y="968.50" style="font-size:19.0px;" textLength="12.06" lengthAdjust="spacingAndGlyphs" fill="#000" >C</text>
<rect x="629.30" y="963.10" width="16.70" height="28.70" fill="none" stroke="#000" stroke-opacity="0.085" stroke-width="1"/>
<text x="635.09" y="982.55" style="font-size:19.0px;" textLength="5.26" lengthAdjust="spacingAndGlyphs" fill="#000" >I</text>
<rect x="512.60" y="991.00" width="23.90" height="28.60" fill="none" stroke="#000" stroke-opacity="0.085" stroke-width="1"/>
<text x="518.40" y="1010.40" style="font-size:19.0px;" textLength="12.32" lengthAdjust="spacingAndGlyphs" fill="#000" >V</text>
<rect x="399.40" y="1001.40" width="21.90" height="28.70" fill="none" stroke="#000" stroke-opacity="0.085" stroke-width="1"/>
<text x="405.75" y="1020.85" style="font-size:19.0px;" textLength="9.35" lengthAdjust="spacingAndGlyphs" fill="#000" >F</text>
<rect x="745.40" y="1069.40" width="29.00" height="28.20" fill="none" stroke="#000" stroke-opacity="0.085" stroke-width="1"/>
<text x="751.51" y="1088.60" style="font-size:19.0px;" textLength="16.76" lengthAdjust="spacingAndGlyphs" fill="#000" >W</text>
<rect x="246.90" y="691.30" width="4.10" height="357.00" fill="#000" />
<text x="248.82" y="1072.80" style="font-size:26.3px;" textLength="103.14" lengthAdjust="spacingAndGlyphs" fill="#000" >300 kpc</text>
<rect x="230.50" y="574.50" width="556.00" height="551.10" fill="none" stroke="#000" stroke-width="1.3" />
<line x1="216.50" y1="675.00" x2="230.50" y2="675.00" stroke="#000" stroke-width="1.3"/>
<line x1="786.50" y1="675.00" x2="800.50" y2="675.00" stroke="#000" stroke-width="1.3"/>
<line x1="216.50" y1="805.00" x2="230.50" y2="805.00" stroke="#000" stroke-width="1.3"/>
<line x1="786.50" y1="805.00" x2="800.50" y2="805.00" stroke="#000" stroke-width="1.3"/>
<line x1="216.50" y1="935.50" x2="230.50" y2="935.50" stroke="#000" stroke-width="1.3"/>
<line x1="786.50" y1="935.50" x2="800.50" y2="935.50" stroke="#000" stroke-width="1.3"/>
<line x1="216.50" y1="1066.10" x2="230.50" y2="1066.10" stroke="#000" stroke-width="1.3"/>
<line x1="786.50" y1="1066.10" x2="800.50" y2="1066.10" stroke="#000" stroke-width="1.3"/>
<line x1="330.80" y1="1125.60" x2="330.80" y2="1139.60" stroke="#000" stroke-width="1.3"/>
<line x1="459.40" y1="1125.60" x2="459.40" y2="1139.60" stroke="#000" stroke-width="1.3"/>
<line x1="587.90" y1="1125.60" x2="587.90" y2="1139.60" stroke="#000" stroke-width="1.3"/>
<line x1="716.50" y1="1125.60" x2="716.50" y2="1139.60" stroke="#000" stroke-width="1.3"/>
<text x="61.03" y="683.30" style="font-size:26.3px;" textLength="149.46" lengthAdjust="spacingAndGlyphs" fill="#000" >-9°12'45.0"</text>
<text x="100.81" y="813.30" style="font-size:26.3px;" textLength="110.10" lengthAdjust="spacingAndGlyphs" fill="#000" >13'00.0"</text>
<text x="143.30" y="943.80" style="font-size:26.3px;" textLength="67.41" lengthAdjust="spacingAndGlyphs" fill="#000" >15.0"</text>
<text x="142.71" y="1074.40" style="font-size:26.3px;" textLength="68.21" lengthAdjust="spacingAndGlyphs" fill="#000" >30.0"</text>
<text transform="translate(96.30,963.23) rotate(-90)" x="0" y="0" style="font-size:28.0px;" textLength="228.19" lengthAdjust="spacingAndGlyphs">J2000 Declination</text>
<text x="248.01" y="1165.80" style="font-size:26.3px;" textLength="164.33" lengthAdjust="spacingAndGlyphs" fill="#000" >4h10m12.00</text>
<text x="420.68" y="1165.80" style="font-size:26.3px;" textLength="75.21" lengthAdjust="spacingAndGlyphs" fill="#000" >11.00</text>
<text x="549.75" y="1165.80" style="font-size:26.3px;" textLength="75.08" lengthAdjust="spacingAndGlyphs" fill="#000" >10.00</text>
<text x="679.11" y="1165.80" style="font-size:26.3px;" textLength="74.71" lengthAdjust="spacingAndGlyphs" fill="#000" >09.00</text>
<text x="362.17" y="1203.90" style="font-size:26.3px;" textLength="291.80" lengthAdjust="spacingAndGlyphs" fill="#000" >J2000 Right Ascension</text>
<rect x="823.60" y="574.40" width="28.00" height="551.20" fill="url(#gjet)" stroke="#000" stroke-width="1.3" />
<line x1="851.60" y1="1125.60" x2="856.20" y2="1125.60" stroke="#000" stroke-width="1.3"/>
<text x="862.76" y="1135.50" style="font-size:26.3px;" textLength="86.58" lengthAdjust="spacingAndGlyphs" fill="#000" >−6000</text>
<line x1="851.60" y1="1056.70" x2="856.20" y2="1056.70" stroke="#000" stroke-width="1.3"/>
<text x="862.76" y="1066.60" style="font-size:26.3px;" textLength="86.58" lengthAdjust="spacingAndGlyphs" fill="#000" >−4000</text>
<line x1="851.60" y1="987.80" x2="856.20" y2="987.80" stroke="#000" stroke-width="1.3"/>
<text x="862.76" y="997.70" style="font-size:26.3px;" textLength="86.58" lengthAdjust="spacingAndGlyphs" fill="#000" >−2000</text>
<line x1="851.60" y1="918.90" x2="856.20" y2="918.90" stroke="#000" stroke-width="1.3"/>
<text x="861.71" y="928.80" style="font-size:26.3px;" textLength="16.57" lengthAdjust="spacingAndGlyphs" fill="#000" >0</text>
<line x1="851.60" y1="850.00" x2="856.20" y2="850.00" stroke="#000" stroke-width="1.3"/>
<text x="861.41" y="859.90" style="font-size:26.3px;" textLength="66.12" lengthAdjust="spacingAndGlyphs" fill="#000" >2000</text>
<line x1="851.60" y1="781.10" x2="856.20" y2="781.10" stroke="#000" stroke-width="1.3"/>
<text x="862.31" y="791.00" style="font-size:26.3px;" textLength="65.20" lengthAdjust="spacingAndGlyphs" fill="#000" >4000</text>
<line x1="851.60" y1="712.20" x2="856.20" y2="712.20" stroke="#000" stroke-width="1.3"/>
<text x="861.41" y="722.10" style="font-size:26.3px;" textLength="66.12" lengthAdjust="spacingAndGlyphs" fill="#000" >6000</text>
<line x1="851.60" y1="643.30" x2="856.20" y2="643.30" stroke="#000" stroke-width="1.3"/>
<text x="861.57" y="653.20" style="font-size:26.3px;" textLength="65.96" lengthAdjust="spacingAndGlyphs" fill="#000" >8000</text>
<line x1="851.60" y1="574.40" x2="856.20" y2="574.40" stroke="#000" stroke-width="1.3"/>
<text x="861.68" y="584.30" style="font-size:26.3px;" textLength="82.38" lengthAdjust="spacingAndGlyphs" fill="#000" >10000</text>
<text transform="translate(976.70,967.54) rotate(-90)" x="0" y="0" style="font-size:28.0px;" textLength="18.62" lengthAdjust="spacingAndGlyphs">Δ</text>
<text transform="translate(976.70,949.29) rotate(-90)" x="0" y="0" style="font-size:28.0px;font-style:italic;" textLength="14.49" lengthAdjust="spacingAndGlyphs">v</text>
<text transform="translate(980.80,933.86) rotate(-90)" x="0" y="0" style="font-size:19.7px;" textLength="80.26" lengthAdjust="spacingAndGlyphs">Hot DOG</text>
<text transform="translate(976.70,845.38) rotate(-90)" x="0" y="0" style="font-size:28.0px;" textLength="77.88" lengthAdjust="spacingAndGlyphs">[km s</text>
<text transform="translate(964.80,768.01) rotate(-90)" x="0" y="0" style="font-size:19.5px;" textLength="23.02" lengthAdjust="spacingAndGlyphs">−1</text>
<text transform="translate(976.70,742.88) rotate(-90)" x="0" y="0" style="font-size:28.0px;" textLength="10.14" lengthAdjust="spacingAndGlyphs">]</text>
<rect x="223.60" y="1495.44" width="43.58" height="35.86" fill="url(#hatch)" />
<rect x="352.54" y="1495.44" width="43.58" height="35.86" fill="url(#hatch)" />
<rect x="395.52" y="1280.28" width="43.58" height="251.02" fill="url(#hatch)" />
<rect x="438.50" y="1352.00" width="43.58" height="179.30" fill="url(#hatch)" />
<rect x="481.48" y="1316.14" width="43.58" height="215.16" fill="url(#hatch)" />
<rect x="567.44" y="1495.44" width="43.58" height="35.86" fill="url(#hatch)" />
<rect x="696.38" y="1423.72" width="43.58" height="107.58" fill="url(#hatch)" />
<rect x="825.32" y="1495.44" width="43.58" height="35.86" fill="url(#hatch)" />
<path d="M223.90,1531.30 L223.90,1495.44 L266.88,1495.44 L266.88,1531.30" fill="none" stroke="#7d8894" stroke-width="2.4" stroke-linejoin="miter"/>
<path d="M352.84,1531.30 L352.84,1495.44 L395.82,1495.44 L395.82,1280.28 L438.80,1280.28 L438.80,1352.00 L481.78,1352.00 L481.78,1316.14 L524.76,1316.14 L524.76,1531.30" fill="none" stroke="#7d8894" stroke-width="2.4" stroke-linejoin="miter"/>
<path d="M567.74,1531.30 L567.74,1495.44 L610.72,1495.44 L610.72,1531.30" fill="none" stroke="#7d8894" stroke-width="2.4" stroke-linejoin="miter"/>
<path d="M696.68,1531.30 L696.68,1423.72 L739.66,1423.72 L739.66,1531.30" fill="none" stroke="#7d8894" stroke-width="2.4" stroke-linejoin="miter"/>
<path d="M825.62,1531.30 L825.62,1495.44 L868.60,1495.44 L868.60,1531.30" fill="none" stroke="#7d8894" stroke-width="2.4" stroke-linejoin="miter"/>
<rect x="192.40" y="1244.40" width="707.80" height="286.90" fill="none" stroke="#000" stroke-width="1.3" />
<line x1="187.30" y1="1244.40" x2="192.40" y2="1244.40" stroke="#000" stroke-width="1.3"/>
<text x="164.10" y="1255.20" style="font-size:29.3px;" textLength="18.25" lengthAdjust="spacingAndGlyphs" fill="#000" >8</text>
<line x1="187.30" y1="1316.10" x2="192.40" y2="1316.10" stroke="#000" stroke-width="1.3"/>
<text x="164.10" y="1326.90" style="font-size:29.3px;" textLength="18.25" lengthAdjust="spacingAndGlyphs" fill="#000" >6</text>
<line x1="187.30" y1="1387.90" x2="192.40" y2="1387.90" stroke="#000" stroke-width="1.3"/>
<text x="163.77" y="1398.70" style="font-size:29.3px;" textLength="18.25" lengthAdjust="spacingAndGlyphs" fill="#000" >4</text>
<line x1="187.30" y1="1459.60" x2="192.40" y2="1459.60" stroke="#000" stroke-width="1.3"/>
<text x="164.43" y="1470.40" style="font-size:29.3px;" textLength="18.25" lengthAdjust="spacingAndGlyphs" fill="#000" >2</text>
<line x1="213.30" y1="1531.30" x2="213.30" y2="1536.30" stroke="#000" stroke-width="1.3"/>
<line x1="375.30" y1="1531.30" x2="375.30" y2="1536.30" stroke="#000" stroke-width="1.3"/>
<line x1="456.30" y1="1531.30" x2="456.30" y2="1536.30" stroke="#000" stroke-width="1.3"/>
<line x1="537.30" y1="1531.30" x2="537.30" y2="1536.30" stroke="#000" stroke-width="1.3"/>
<line x1="699.30" y1="1531.30" x2="699.30" y2="1536.30" stroke="#000" stroke-width="1.3"/>
<line x1="861.30" y1="1531.30" x2="861.30" y2="1536.30" stroke="#000" stroke-width="1.3"/>
<text x="167.14" y="1562.80" style="font-size:29.3px;" textLength="93.48" lengthAdjust="spacingAndGlyphs" fill="#000" >−6000</text>
<text x="328.84" y="1562.80" style="font-size:29.3px;" textLength="93.28" lengthAdjust="spacingAndGlyphs" fill="#000" >−2000</text>
<text x="446.49" y="1562.80" style="font-size:29.3px;" textLength="18.19" lengthAdjust="spacingAndGlyphs" fill="#000" >0</text>
<text x="501.09" y="1562.80" style="font-size:29.3px;" textLength="71.63" lengthAdjust="spacingAndGlyphs" fill="#000" >2000</text>
<text x="663.50" y="1562.80" style="font-size:29.3px;" textLength="71.21" lengthAdjust="spacingAndGlyphs" fill="#000" >6000</text>
<text x="816.00" y="1562.80" style="font-size:29.3px;" textLength="89.15" lengthAdjust="spacingAndGlyphs" fill="#000" >10000</text>
<text x="383.44" y="1598.80" style="font-size:29.5px;" textLength="284.86" lengthAdjust="spacingAndGlyphs" fill="#000" >velocity offset [km s</text>
<text x="669.44" y="1587.80" style="font-size:19.5px;" textLength="26.51" lengthAdjust="spacingAndGlyphs" fill="#000" >−1</text>
<text x="701.16" y="1598.80" style="font-size:29.5px;" textLength="7.92" lengthAdjust="spacingAndGlyphs" fill="#000" >]</text>
<text transform="translate(153.30,1520.71) rotate(-90)" x="0" y="0" style="font-size:29.9px;" textLength="264.84" lengthAdjust="spacingAndGlyphs">Number of sources</text>
<text x="-1.29" y="47.50" style="font-size:47.0px;font-weight:bold;" textLength="23.91" lengthAdjust="spacingAndGlyphs" fill="#000" >a</text>
<text x="-3.49" y="636.50" style="font-size:47.0px;font-weight:bold;" textLength="30.00" lengthAdjust="spacingAndGlyphs" fill="#000" >b</text>
<text x="13.11" y="1260.50" style="font-size:48.0px;font-weight:bold;" textLength="27.64" lengthAdjust="spacingAndGlyphs" fill="#000" >c</text>
</svg></body></html>
